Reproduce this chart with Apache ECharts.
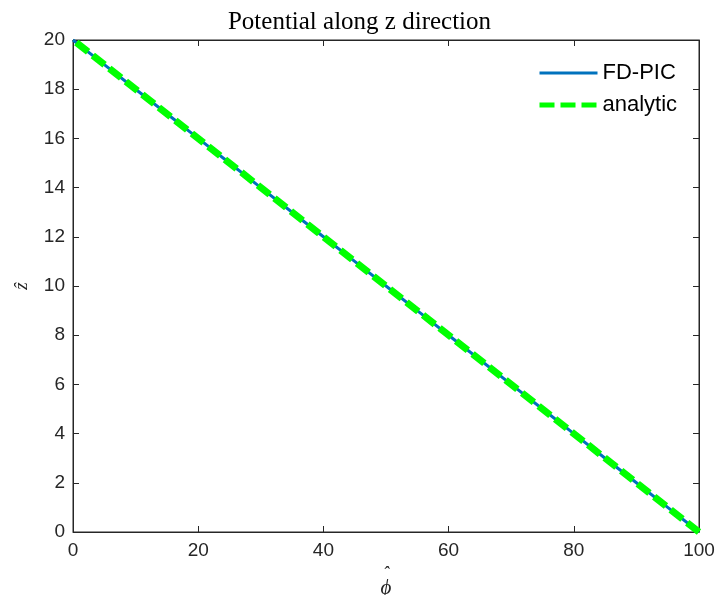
<!DOCTYPE html>
<html><head><meta charset="utf-8">
<script src="https://cdn.jsdelivr.net/npm/echarts@6/dist/echarts.min.js"></script>
<style>html,body{margin:0;padding:0;background:#fff}#c{width:719px;height:595px}</style>
</head><body><div id="c"></div>
<script>
const phiFD = [100,95,90,85,80,75,70,65,60,55,50,45,40,35,30,25,20,15,10,5,0];
const zFD   = [0,1,2,3,4,5,6,7,8,9,10,11,12,13,14,15,16,17,18,19,20];
const phiAn = [100,0];
const zAn   = [0,20];
const xTicks = [0,20,40,60,80,100];
const yTicks = [0,2,4,6,8,10,12,14,16,18,20];
const seriesNames = ['FD-PIC','analytic'];
const titleText = 'Potential along z direction';

const chart = echarts.init(document.getElementById('c'), null, {renderer:'canvas'});
const axCol = '#262626';
const baseX = {type:'value', min:xTicks[0], max:xTicks[xTicks.length-1], interval:xTicks[1]-xTicks[0],
  axisLine:{show:true, onZero:false, lineStyle:{color:axCol,width:1}},
  axisTick:{show:true, inside:true, length:6, lineStyle:{color:axCol}},
  splitLine:{show:false}};
const baseY = {type:'value', min:yTicks[0], max:yTicks[yTicks.length-1], interval:yTicks[1]-yTicks[0],
  axisLine:{show:true, onZero:false, lineStyle:{color:axCol,width:1}},
  axisTick:{show:true, inside:true, length:6, lineStyle:{color:axCol}},
  splitLine:{show:false}};
chart.setOption({
  animation:false,
  backgroundColor:'#fff',
  title:{text:titleText, left:'center', top:5, textStyle:{fontFamily:'Liberation Serif', fontWeight:'normal', fontSize:25, color:'#000'}},
  grid:{left:73, right:20, top:40, bottom:63, show:true, borderColor:axCol, borderWidth:1, containLabel:false, outerBoundsMode:'none'},
  legend:{orient:'vertical', left:532, top:57, itemWidth:58, itemHeight:14, itemGap:10,
    itemStyle:{opacity:0},
    textStyle:{fontFamily:'Liberation Sans', fontSize:22, color:'#000', padding:[0,0,0,0]},
    data:[{name:seriesNames[0], lineStyle:{width:3}}, {name:seriesNames[1], lineStyle:{width:5}}]},
  xAxis:[
    Object.assign({}, baseX, {position:'bottom',
      axisLabel:{show:true, margin:9, fontFamily:'Liberation Sans', fontSize:19, color:axCol},
      name:'{h|ˆ}\n{p|ϕ}', nameLocation:'middle', nameGap:29,
      nameTextStyle:{fontFamily:'Liberation Serif', fontStyle:'italic', color:axCol, align:'center', verticalAlign:'top',
        rich:{h:{fontFamily:'Liberation Serif', fontSize:18, lineHeight:8, color:axCol, align:'center'},
              p:{fontFamily:'Liberation Serif', fontStyle:'italic', fontSize:21, lineHeight:22, color:axCol, align:'center'}}}}),
    Object.assign({}, baseX, {position:'top', axisLabel:{show:false}})
  ],
  yAxis:[
    Object.assign({}, baseY, {position:'left',
      axisLabel:{show:true, margin:8, fontFamily:'Liberation Sans', fontSize:19, color:axCol},
      name:'ẑ', nameLocation:'middle', nameGap:42, nameRotate:90,
      nameTextStyle:{fontFamily:'Liberation Serif', fontStyle:'italic', fontSize:19, color:axCol}}),
    Object.assign({}, baseY, {position:'right', axisLabel:{show:false}})
  ],
  series:[
    {name:seriesNames[0], type:'line', data:phiFD.map((p,i)=>[p,zFD[i]]),
      showSymbol:false, symbol:'none', color:'#0072BD',
      lineStyle:{color:'#0072BD', width:3}},
    {name:seriesNames[1], type:'line', data:phiAn.map((p,i)=>[p,zAn[i]]),
      showSymbol:false, symbol:'none', color:'#00FF00',
      lineStyle:{color:'#00FF00', width:7, type:[15,6]}}
  ]
});
</script></body></html>
